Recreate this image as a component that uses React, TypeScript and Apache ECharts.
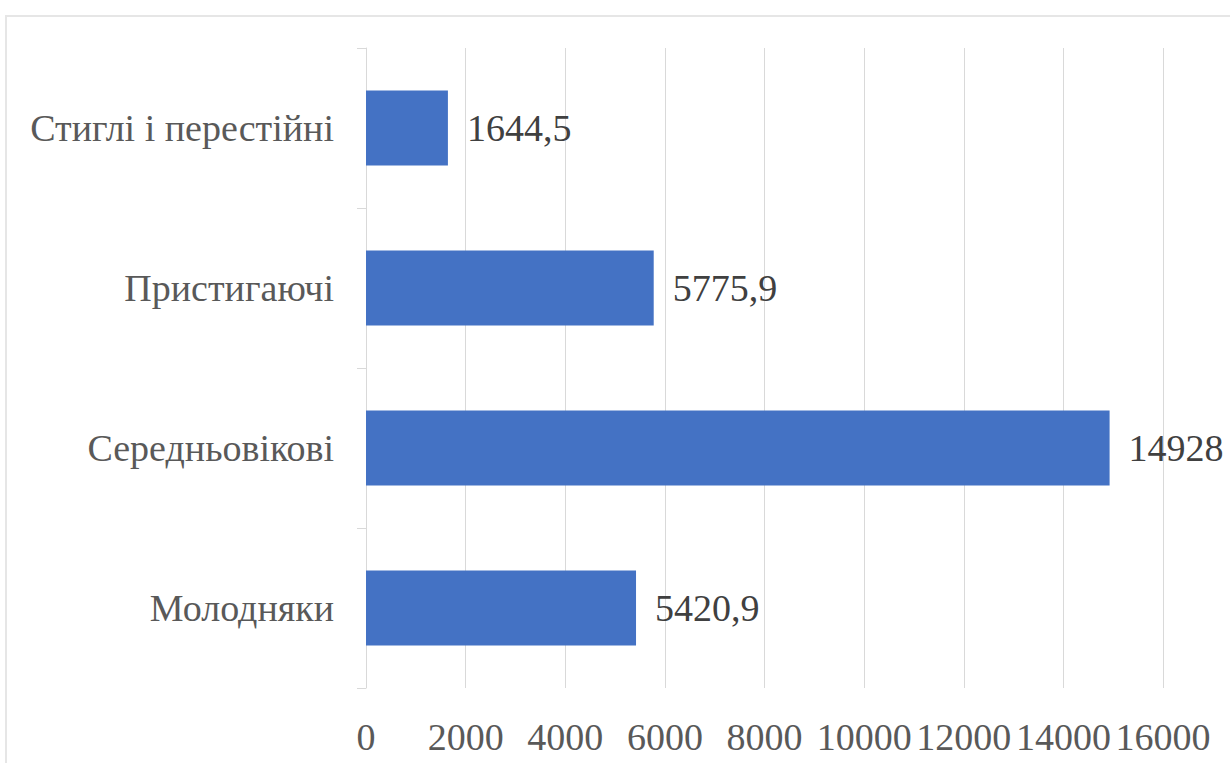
import React, { useEffect, useRef } from "react";
import * as echarts from "echarts";

const categories = ["Молодняки", "Середньовікові", "Пристигаючі", "Стиглі і перестійні"];
const values = [5420.9, 14928, 5775.9, 1644.5];
const valueLabels = ["5420,9", "14928", "5775,9", "1644,5"];

const FONT = "Liberation Serif, Times New Roman, serif";

export default function App() {
  const ref = useRef<HTMLDivElement>(null);
  useEffect(() => {
    if (!ref.current) return;
    const chart = echarts.init(ref.current, null, { renderer: "svg" });
    chart.setOption({
      animation: false,
      backgroundColor: "#ffffff",
      textStyle: { fontFamily: FONT },
      graphic: [
        {
          type: "rect",
          shape: { x: 6, y: 16, width: 1240, height: 800 },
          style: { fill: "none", stroke: "#e6e6e6", lineWidth: 2 },
          silent: true,
        },
      ],
      grid: { left: 366, right: 67, top: 48, bottom: 75, outerBoundsMode: "none" },
      xAxis: {
        type: "value",
        min: 0,
        max: 16000,
        interval: 2000,
        axisLine: { show: false },
        axisTick: { show: false },
        splitLine: { show: true, lineStyle: { color: "#d9d9d9", width: 1 } },
        axisLabel: {
          color: "#595959",
          fontFamily: FONT,
          fontSize: 38,
          margin: 30,
          formatter: (v: number) => String(v),
        },
      },
      yAxis: {
        type: "category",
        data: categories,
        axisLine: { show: true, lineStyle: { color: "#d9d9d9", width: 1 } },
        axisTick: { show: true, length: 9, lineStyle: { color: "#d9d9d9" } },
        axisLabel: { color: "#595959", fontFamily: FONT, fontSize: 38, margin: 32 },
      },
      series: [
        {
          type: "bar",
          data: values,
          barWidth: "47%",
          itemStyle: { color: "#4472C4" },
          label: {
            show: true,
            position: "right",
            distance: 19,
            color: "#404040",
            fontFamily: FONT,
            fontSize: 38,
            formatter: (p: any) => valueLabels[p.dataIndex],
          },
        },
      ],
    });
    return () => chart.dispose();
  }, []);
  return (
    <div
      ref={ref}
      style={{ position: "fixed", left: 0, top: 0, width: 1230, height: 763 }}
    />
  );
}
